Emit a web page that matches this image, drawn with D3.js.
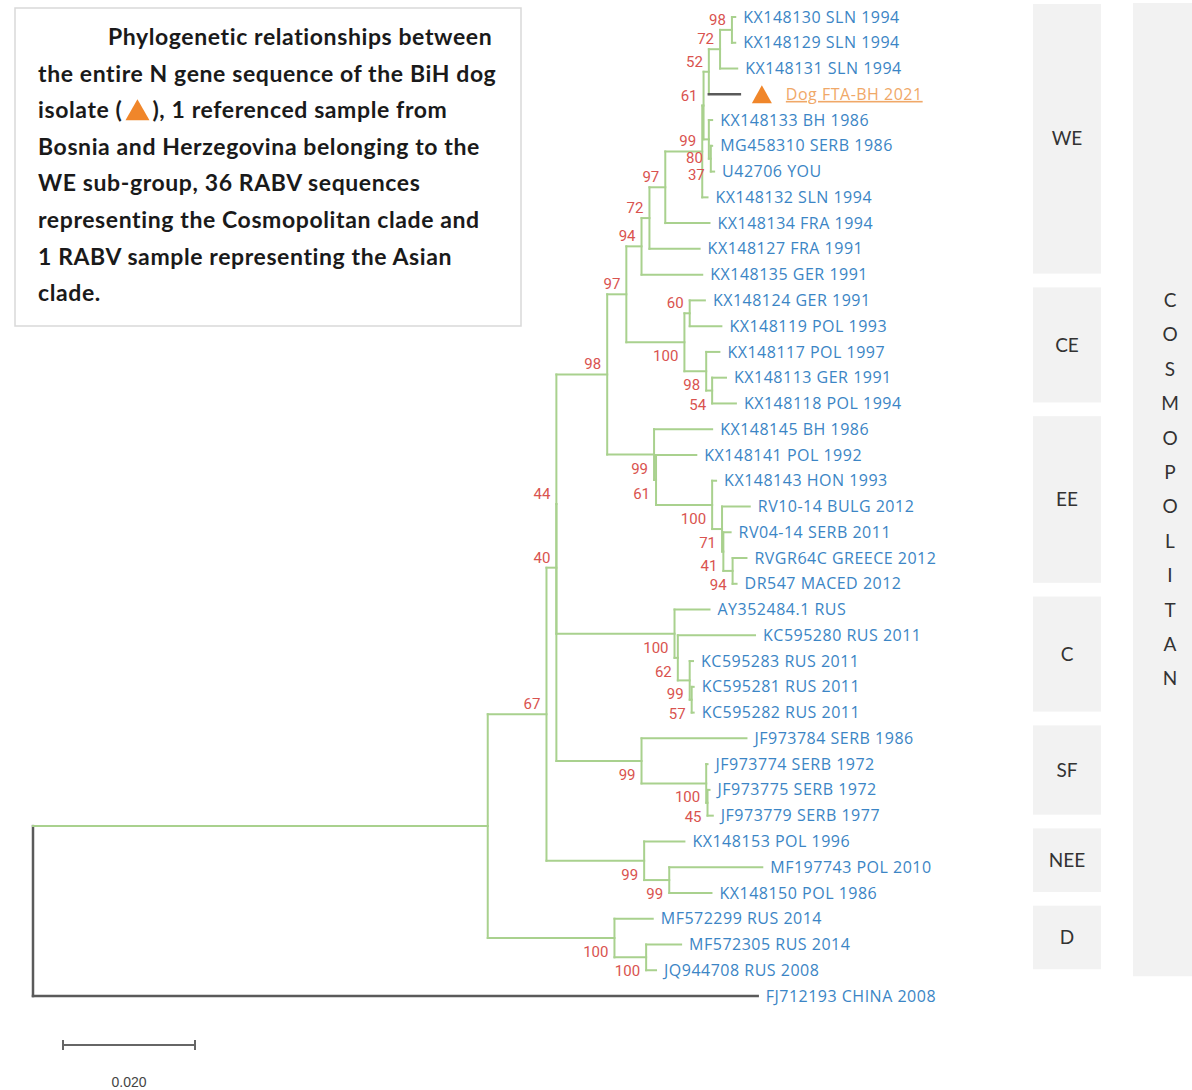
<!DOCTYPE html>
<html>
<head>
<meta charset="utf-8">
<script src="https://cdn.jsdelivr.net/npm/d3@7.9.0/dist/d3.min.js"></script>
<style>
  body { margin: 0; background: #fff; }
  svg { display: block; }
</style>
</head>
<body>
<svg id="chart" width="1192" height="1090"></svg>
<script>
// leaf labels, top to bottom
const leafNames = [
  'KX148130 SLN 1994', 'KX148129 SLN 1994', 'KX148131 SLN 1994', 'Dog FTA-BH 2021',
  'KX148133 BH 1986', 'MG458310 SERB 1986', 'U42706 YOU', 'KX148132 SLN 1994',
  'KX148134 FRA 1994', 'KX148127 FRA 1991', 'KX148135 GER 1991', 'KX148124 GER 1991',
  'KX148119 POL 1993', 'KX148117 POL 1997', 'KX148113 GER 1991', 'KX148118 POL 1994',
  'KX148145 BH 1986', 'KX148141 POL 1992', 'KX148143 HON 1993', 'RV10-14 BULG 2012',
  'RV04-14 SERB 2011', 'RVGR64C GREECE 2012', 'DR547 MACED 2012', 'AY352484.1 RUS',
  'KC595280 RUS 2011', 'KC595283 RUS 2011', 'KC595281 RUS 2011', 'KC595282 RUS 2011',
  'JF973784 SERB 1986', 'JF973774 SERB 1972', 'JF973775 SERB 1972', 'JF973779 SERB 1977',
  'KX148153 POL 1996', 'MF197743 POL 2010', 'KX148150 POL 1986', 'MF572299 RUS 2014',
  'MF572305 RUS 2014', 'JQ944708 RUS 2008', 'FJ712193 CHINA 2008'
];

// tree in newick: leaves are indexes into leafNames, internal labels are bootstrap values
const newick =
  '(((((((((((((((0:0.0005,1:0.0005)98:0.0018,2:0.0026)72:0.0017,3:0.0047)52:0.0008,' +
  '(4:0.0005,(5:0.0002,6:0.0005)37:0.0003)80:0.0008)61:0.0002,7:0.0008)99:0.0056,' +
  '8:0.0067)97:0.0024,9:0.0076)72:0.0012,10:0.0092)94:0.0023,' +
  '((11:0.0023,12:0.0048)60:0.0008,(13:0.002,(14:0.0021,15:0.0036)54:0.0009)98:0.0033)100:0.0088)97:0.0029,' +
  '(16:0.0088,(17:0.0061,(18:0.0006,(19:0.0042,(20:0.0011,(21:0.0021,22:0.0006)94:0.0014)41:0.0002)71:0.0015)100:0.0085)61:0.0003)99:0.0071)98:0.0077,' +
  '(23:0.0053,(24:0.0117,(25:0.0005,(26:0.0003,27:0.0003)57:0.0003)99:0.0018)62:0.0005)100:0.0179)44:0,' +
  '(28:0.0159,(29:0.0002,(30:0.0003,31:0.0008)45:0.0002)100:0.0098)99:0.0129)40:0.0015,' +
  '(32:0.0061,(33:0.0141,34:0.0064)99:0.0038)99:0.0148)67:0.0089,' +
  '(35:0.0058,(36:0.0053,37:0.0015)100:0.0048)100:0.0192):0.0689,38:0.1098);';

const queryLeaf = 3; // the BiH dog isolate

// sub-group bars on the right
const groupNames = ['WE', 'CE', 'EE', 'C', 'SF', 'NEE', 'D'];
const groupFirst = [0, 11, 16, 23, 28, 32, 35];
const groupLast = [10, 15, 22, 27, 31, 34, 37];
const cladeName = 'COSMOPOLITAN';
const cladeFirst = 0, cladeLast = 37;

const captionLines = [
  'Phylogenetic relationships between',
  'the entire N gene sequence of the BiH dog',
  'isolate (\u25B2), 1 referenced sample from',
  'Bosnia and Herzegovina belonging to the',
  'WE sub-group, 36 RABV sequences',
  'representing the Cosmopolitan clade and',
  '1 RABV sample representing the Asian',
  'clade.'
];

const scaleBarValue = 0.02;

function parseNewick(s) {
  let i = 0;
  function node() {
    const n = {};
    if (s[i] === '(') {
      n.children = [];
      i++;
      n.children.push(node());
      while (s[i] === ',') { i++; n.children.push(node()); }
      i++;
    }
    let lab = '';
    while (i < s.length && !':,);'.includes(s[i])) lab += s[i++];
    n.len = 0;
    if (s[i] === ':') {
      i++;
      let len = '';
      while (i < s.length && !',);'.includes(s[i])) len += s[i++];
      n.len = +len;
    }
    if (n.children) n.support = lab || null;
    else n.leaf = +lab;
    return n;
  }
  return node();
}

const svg = d3.select('#chart');
const green = '#a9d18e', dark = '#5a5a5a';
const orange = '#f0862a';

const x = d3.scaleLinear().domain([0, scaleBarValue]).range([33, 165]);
const y = d3.scaleLinear().domain([0, leafNames.length - 1]).range([17, 996]);

const root = d3.hierarchy(parseNewick(newick));
root.each(d => { d.dist = (d.parent ? d.parent.dist : 0) + d.data.len; });
root.eachAfter(d => {
  if (!d.children) { d.yy = y(d.data.leaf); return; }
  // zero-length inner branches are drawn as part of the parent's vertical line
  const ends = d.children.flatMap(c => (c.children && c.data.len === 0) ? c.children.map(g => g.yy) : [c.yy]);
  d.yy = (d3.min(ends) + d3.max(ends)) / 2;
  d.y0 = d3.min(d.children, c => c.yy);
  d.y1 = d3.max(d.children, c => c.yy);
});

// caption box
svg.append('rect')
  .attr('x', 15).attr('y', 8).attr('width', 506).attr('height', 318)
  .attr('fill', '#fff').attr('stroke', '#d9d9d9').attr('stroke-width', 1.5);

const cap = svg.append('g')
  .attr('font-family', 'Lato, sans-serif').attr('font-weight', 'bold')
  .attr('font-size', 23).attr('letter-spacing', 0.6).attr('fill', '#1a1a1a');

captionLines.forEach((line, i) => {
  const x0 = i === 0 ? 108 : 38, base = 45 + i * 36.6;
  const t = cap.append('text').attr('x', x0).attr('y', base);
  const parts = line.split('\u25B2');
  const first = t.append('tspan').text(parts[0]);
  if (parts.length > 1) {
    const w = first.node().getComputedTextLength();
    t.append('tspan').attr('dx', 30).text(parts[1]);
    const cx = x0 + w + 15, cy = base - 8;
    cap.append('path')
      .attr('d', `M${cx - 12},${cy + 10}L${cx + 12},${cy + 10}L${cx},${cy - 11}Z`)
      .attr('fill', orange);
  }
});

// group bars
const bars = svg.append('g');
groupNames.forEach((name, i) => {
  const y0 = y(groupFirst[i]) - 13, y1 = y(groupLast[i]) - 1;
  bars.append('rect')
    .attr('x', 1033).attr('y', y0).attr('width', 68).attr('height', y1 - y0)
    .attr('fill', '#f2f2f2');
  bars.append('text')
    .attr('x', 1067).attr('y', (y0 + y1) / 2).attr('dy', '0.35em')
    .attr('text-anchor', 'middle')
    .attr('font-family', 'Lato, sans-serif').attr('font-size', 19).attr('fill', '#333')
    .text(name);
});
{
  const y0 = y(cladeFirst) - 14, y1 = y(cladeLast) + 6;
  bars.append('rect')
    .attr('x', 1133).attr('y', y0).attr('width', 80).attr('height', y1 - y0)
    .attr('fill', '#f2f2f2');
  const letters = cladeName.split('');
  const mid = (y0 + y1) / 2, step = 34.4;
  bars.selectAll('text.clade').data(letters).join('text')
    .attr('class', 'clade')
    .attr('x', 1170)
    .attr('y', (d, i) => mid + (i - (letters.length - 1) / 2) * step)
    .attr('dy', '0.35em')
    .attr('text-anchor', 'middle')
    .attr('font-family', 'Lato, sans-serif').attr('font-size', 19).attr('fill', '#333')
    .text(d => d);
}

// branches
const tree = svg.append('g').attr('fill', 'none').attr('stroke-width', 2).attr('stroke-linecap', 'square');
root.descendants().filter(d => d.children).forEach(d => {
  tree.append('line')
    .attr('x1', x(d.dist)).attr('x2', x(d.dist))
    .attr('y1', d.y0).attr('y2', d.y1)
    .attr('stroke', d.depth === 0 ? dark : green)
    .attr('stroke-width', d.depth === 0 ? 2.5 : 2);
});
root.descendants().slice(1).forEach(d => {
  const isDark = d.data.leaf === queryLeaf || (d.parent.depth === 0 && !d.children);
  tree.append('line')
    .attr('x1', x(d.parent.dist)).attr('x2', x(d.dist))
    .attr('y1', d.yy).attr('y2', d.yy)
    .attr('stroke', isDark ? dark : green)
    .attr('stroke-width', isDark ? 2.5 : 2);
});

// bootstrap values: left of the node, above the branch for upper children, below for lower ones
const boot = svg.append('g')
  .attr('font-family', 'Roboto, sans-serif').attr('font-size', 15).attr('fill', '#d9534f')
  .attr('text-anchor', 'end')
  .selectAll('text')
  .data(root.descendants().filter(d => d.children && d.data.support))
  .join('text')
  .attr('x', d => x(d.dist) - 6)
  .attr('y', d => d.parent && d.parent.children[0] === d ? d.yy - 5 : d.yy + 19)
  .text(d => d.data.support);

// push down labels that would sit on top of one another
const placed = [];
boot.nodes()
  .map(n => ({ n, b: n.getBBox(), y: +n.getAttribute('y') }))
  .sort((a, b) => a.y - b.y)
  .forEach(l => {
    placed.forEach(p => {
      const hit = l.b.x < p.b.x + p.b.width && p.b.x < l.b.x + l.b.width;
      if (hit && l.y - p.y < 17) l.y = p.y + 17;
    });
    l.n.setAttribute('y', l.y);
    placed.push(l);
  });

// leaf labels
const labels = svg.append('g').attr('font-family', '"Open Sans", sans-serif').attr('font-size', 16);
root.leaves().forEach(d => {
  if (d.data.leaf === queryLeaf) {
    const cx = x(d.dist) + 22;
    labels.append('path')
      .attr('d', `M${cx - 10},${d.yy + 9}L${cx + 10},${d.yy + 9}L${cx},${d.yy - 9}Z`)
      .attr('fill', orange);
    labels.append('text')
      .attr('x', x(d.dist) + 46).attr('y', d.yy).attr('dy', '0.35em')
      .attr('fill', '#f0a868').attr('letter-spacing', 0.5)
      .attr('text-decoration', 'underline')
      .text(leafNames[d.data.leaf]);
  } else {
    labels.append('text')
      .attr('x', x(d.dist) + 8).attr('y', d.yy).attr('dy', '0.35em')
      .attr('fill', '#3b85c5').attr('letter-spacing', 0.5)
      .text(leafNames[d.data.leaf]);
  }
});

// scale bar
const sb = svg.append('g').attr('stroke', '#666').attr('stroke-width', 2);
const sx0 = 63, sx1 = 63 + x(scaleBarValue) - x(0);
sb.append('line').attr('x1', sx0).attr('x2', sx1).attr('y1', 1045).attr('y2', 1045);
sb.append('line').attr('x1', sx0).attr('x2', sx0).attr('y1', 1040).attr('y2', 1050);
sb.append('line').attr('x1', sx1).attr('x2', sx1).attr('y1', 1040).attr('y2', 1050);
svg.append('text')
  .attr('x', (sx0 + sx1) / 2).attr('y', 1087)
  .attr('text-anchor', 'middle')
  .attr('font-family', '"Liberation Sans", Arial, sans-serif').attr('font-size', 14).attr('fill', '#444')
  .text(scaleBarValue.toFixed(3));
</script>
</body>
</html>
